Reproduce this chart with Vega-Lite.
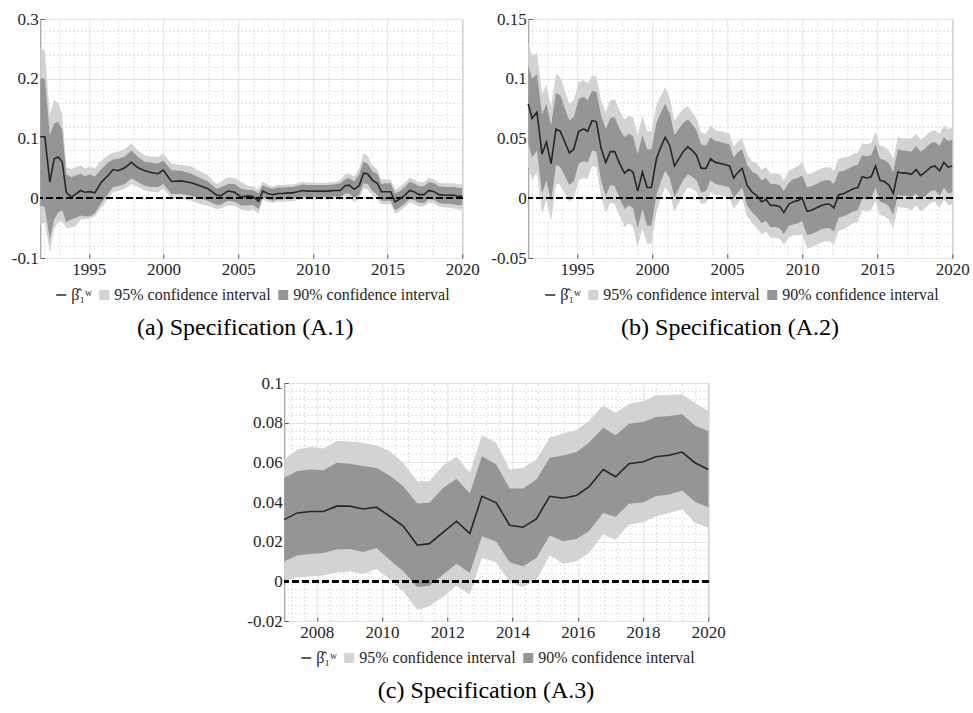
{
  "$schema": "https://vega.github.io/schema/vega-lite/v6.json",
  "padding": {"left": 10, "top": 9, "right": 2, "bottom": 2},
  "background": "#ffffff",
  "datasets": {
    "legend": [{"s": "β̂₁ʷ"}, {"s": "95% confidence interval"}, {"s": "90% confidence interval"}],
    "a": [
      {"t": 1991.75, "b": 0.103, "l9": -0.012, "h9": 0.201, "l5": -0.045, "h5": 0.252},
      {"t": 1992.06, "b": 0.103, "l9": -0.015, "h9": 0.2, "l5": -0.04, "h5": 0.246},
      {"t": 1992.39, "b": 0.027, "l9": -0.069, "h9": 0.105, "l5": -0.091, "h5": 0.14},
      {"t": 1992.68, "b": 0.066, "l9": -0.035, "h9": 0.125, "l5": -0.052, "h5": 0.165},
      {"t": 1992.95, "b": 0.069, "l9": -0.024, "h9": 0.128, "l5": -0.04, "h5": 0.158},
      {"t": 1993.22, "b": 0.061, "l9": -0.02, "h9": 0.115, "l5": -0.038, "h5": 0.14},
      {"t": 1993.49, "b": 0.01, "l9": -0.04, "h9": 0.04, "l5": -0.05, "h5": 0.052},
      {"t": 1993.84, "b": 0.002, "l9": -0.035, "h9": 0.035, "l5": -0.049, "h5": 0.049},
      {"t": 1994.11, "b": 0.007, "l9": -0.033, "h9": 0.038, "l5": -0.047, "h5": 0.052},
      {"t": 1994.47, "b": 0.013, "l9": -0.029, "h9": 0.041, "l5": -0.035, "h5": 0.055},
      {"t": 1994.73, "b": 0.01, "l9": -0.03, "h9": 0.037, "l5": -0.035, "h5": 0.05},
      {"t": 1995.07, "b": 0.011, "l9": -0.03, "h9": 0.04, "l5": -0.034, "h5": 0.053},
      {"t": 1995.4, "b": 0.009, "l9": -0.025, "h9": 0.036, "l5": -0.03, "h5": 0.05},
      {"t": 1995.85, "b": 0.027, "l9": -0.007, "h9": 0.049, "l5": -0.015, "h5": 0.063},
      {"t": 1996.29, "b": 0.038, "l9": 0.007, "h9": 0.06, "l5": -0.001, "h5": 0.072},
      {"t": 1996.63, "b": 0.048, "l9": 0.019, "h9": 0.065, "l5": 0.01, "h5": 0.076},
      {"t": 1996.96, "b": 0.046, "l9": 0.02, "h9": 0.066, "l5": 0.012, "h5": 0.078},
      {"t": 1997.41, "b": 0.051, "l9": 0.024, "h9": 0.07, "l5": 0.016, "h5": 0.082},
      {"t": 1997.85, "b": 0.06, "l9": 0.033, "h9": 0.08, "l5": 0.024, "h5": 0.092},
      {"t": 1998.3, "b": 0.051, "l9": 0.027, "h9": 0.069, "l5": 0.019, "h5": 0.08},
      {"t": 1998.74, "b": 0.046, "l9": 0.021, "h9": 0.061, "l5": 0.013, "h5": 0.072},
      {"t": 1999.19, "b": 0.043, "l9": 0.019, "h9": 0.06, "l5": 0.011, "h5": 0.07},
      {"t": 1999.63, "b": 0.041, "l9": 0.019, "h9": 0.058, "l5": 0.01, "h5": 0.069},
      {"t": 1999.99, "b": 0.047, "l9": 0.024, "h9": 0.063, "l5": 0.016, "h5": 0.075},
      {"t": 2000.53, "b": 0.028, "l9": 0.007, "h9": 0.047, "l5": -0.001, "h5": 0.058},
      {"t": 2001.19, "b": 0.029, "l9": 0.007, "h9": 0.046, "l5": -0.001, "h5": 0.056},
      {"t": 2001.86, "b": 0.026, "l9": 0.004, "h9": 0.041, "l5": -0.004, "h5": 0.053},
      {"t": 2002.53, "b": 0.02, "l9": -0.001, "h9": 0.033, "l5": -0.01, "h5": 0.044},
      {"t": 2002.97, "b": 0.016, "l9": -0.004, "h9": 0.028, "l5": -0.012, "h5": 0.038},
      {"t": 2003.53, "b": 0.006, "l9": -0.011, "h9": 0.016, "l5": -0.018, "h5": 0.024},
      {"t": 2003.82, "b": 0.004, "l9": -0.011, "h9": 0.018, "l5": -0.017, "h5": 0.027},
      {"t": 2004.31, "b": 0.012, "l9": -0.004, "h9": 0.024, "l5": -0.012, "h5": 0.035},
      {"t": 2004.76, "b": 0.01, "l9": -0.006, "h9": 0.024, "l5": -0.013, "h5": 0.034},
      {"t": 2005.2, "b": 0.002, "l9": -0.012, "h9": 0.016, "l5": -0.019, "h5": 0.027},
      {"t": 2005.65, "b": 0.004, "l9": -0.012, "h9": 0.014, "l5": -0.021, "h5": 0.021},
      {"t": 2005.98, "b": 0.003, "l9": -0.011, "h9": 0.014, "l5": -0.02, "h5": 0.02},
      {"t": 2006.37, "b": -0.005, "l9": -0.018, "h9": 0.008, "l5": -0.025, "h5": 0.015},
      {"t": 2006.64, "b": 0.012, "l9": 0.002, "h9": 0.022, "l5": -0.003, "h5": 0.028},
      {"t": 2006.97, "b": 0.008, "l9": -0.002, "h9": 0.018, "l5": -0.006, "h5": 0.022},
      {"t": 2007.31, "b": 0.006, "l9": -0.004, "h9": 0.016, "l5": -0.008, "h5": 0.02},
      {"t": 2007.64, "b": 0.008, "l9": -0.002, "h9": 0.018, "l5": -0.006, "h5": 0.022},
      {"t": 2007.97, "b": 0.008, "l9": -0.002, "h9": 0.018, "l5": -0.006, "h5": 0.022},
      {"t": 2008.31, "b": 0.009, "l9": -0.001, "h9": 0.019, "l5": -0.005, "h5": 0.023},
      {"t": 2008.64, "b": 0.009, "l9": -0.001, "h9": 0.019, "l5": -0.005, "h5": 0.023},
      {"t": 2008.98, "b": 0.011, "l9": 0.001, "h9": 0.021, "l5": -0.003, "h5": 0.025},
      {"t": 2009.31, "b": 0.013, "l9": 0.003, "h9": 0.023, "l5": -0.001, "h5": 0.027},
      {"t": 2009.64, "b": 0.012, "l9": 0.002, "h9": 0.022, "l5": -0.002, "h5": 0.026},
      {"t": 2010.09, "b": 0.012, "l9": 0.002, "h9": 0.022, "l5": -0.002, "h5": 0.026},
      {"t": 2010.53, "b": 0.012, "l9": 0.002, "h9": 0.022, "l5": -0.002, "h5": 0.026},
      {"t": 2010.98, "b": 0.012, "l9": 0.002, "h9": 0.022, "l5": -0.002, "h5": 0.026},
      {"t": 2011.43, "b": 0.013, "l9": 0.003, "h9": 0.023, "l5": -0.001, "h5": 0.027},
      {"t": 2011.83, "b": 0.013, "l9": 0.002, "h9": 0.025, "l5": -0.003, "h5": 0.03},
      {"t": 2012.16, "b": 0.021, "l9": 0.008, "h9": 0.032, "l5": 0.002, "h5": 0.04},
      {"t": 2012.43, "b": 0.022, "l9": 0.008, "h9": 0.034, "l5": 0.002, "h5": 0.042},
      {"t": 2012.76, "b": 0.015, "l9": 0.001, "h9": 0.028, "l5": -0.006, "h5": 0.036},
      {"t": 2013.1, "b": 0.021, "l9": 0.006, "h9": 0.04, "l5": -0.002, "h5": 0.05},
      {"t": 2013.39, "b": 0.042, "l9": 0.025, "h9": 0.061, "l5": 0.016, "h5": 0.075},
      {"t": 2013.65, "b": 0.041, "l9": 0.024, "h9": 0.058, "l5": 0.015, "h5": 0.071},
      {"t": 2013.99, "b": 0.03, "l9": 0.012, "h9": 0.045, "l5": 0.004, "h5": 0.055},
      {"t": 2014.32, "b": 0.025, "l9": 0.006, "h9": 0.04, "l5": -0.002, "h5": 0.048},
      {"t": 2014.59, "b": 0.011, "l9": -0.004, "h9": 0.024, "l5": -0.01, "h5": 0.032},
      {"t": 2014.88, "b": 0.011, "l9": -0.004, "h9": 0.025, "l5": -0.01, "h5": 0.032},
      {"t": 2015.21, "b": 0.011, "l9": -0.004, "h9": 0.025, "l5": -0.01, "h5": 0.031},
      {"t": 2015.5, "b": -0.006, "l9": -0.02, "h9": 0.008, "l5": -0.026, "h5": 0.015},
      {"t": 2015.84, "b": -0.001, "l9": -0.015, "h9": 0.012, "l5": -0.021, "h5": 0.019},
      {"t": 2016.15, "b": 0.005, "l9": -0.009, "h9": 0.019, "l5": -0.015, "h5": 0.026},
      {"t": 2016.48, "b": 0.013, "l9": -0.001, "h9": 0.027, "l5": -0.007, "h5": 0.034},
      {"t": 2016.77, "b": 0.011, "l9": -0.003, "h9": 0.025, "l5": -0.009, "h5": 0.032},
      {"t": 2017.1, "b": 0.006, "l9": -0.008, "h9": 0.02, "l5": -0.014, "h5": 0.027},
      {"t": 2017.44, "b": 0.006, "l9": -0.008, "h9": 0.02, "l5": -0.014, "h5": 0.027},
      {"t": 2017.77, "b": 0.013, "l9": -0.001, "h9": 0.027, "l5": -0.007, "h5": 0.034},
      {"t": 2018.11, "b": 0.011, "l9": -0.003, "h9": 0.025, "l5": -0.009, "h5": 0.032},
      {"t": 2018.44, "b": 0.006, "l9": -0.008, "h9": 0.02, "l5": -0.014, "h5": 0.026},
      {"t": 2018.78, "b": 0.005, "l9": -0.009, "h9": 0.019, "l5": -0.015, "h5": 0.025},
      {"t": 2019.11, "b": 0.005, "l9": -0.009, "h9": 0.019, "l5": -0.016, "h5": 0.025},
      {"t": 2019.44, "b": 0.005, "l9": -0.01, "h9": 0.019, "l5": -0.017, "h5": 0.025},
      {"t": 2019.78, "b": 0.003, "l9": -0.012, "h9": 0.017, "l5": -0.019, "h5": 0.023},
      {"t": 2020.0, "b": 0.004, "l9": -0.011, "h9": 0.017, "l5": -0.019, "h5": 0.024}
    ],
    "b": [
      {"t": 1991.75, "b": 0.079, "l9": 0.046, "h9": 0.112, "l5": 0.027, "h5": 0.131},
      {"t": 1992.0, "b": 0.067, "l9": 0.034, "h9": 0.1, "l5": 0.015, "h5": 0.119},
      {"t": 1992.33, "b": 0.072, "l9": 0.04, "h9": 0.104, "l5": 0.022, "h5": 0.122},
      {"t": 1992.67, "b": 0.037, "l9": 0.004, "h9": 0.07, "l5": -0.013, "h5": 0.087},
      {"t": 1992.96, "b": 0.047, "l9": 0.015, "h9": 0.079, "l5": -0.001, "h5": 0.095},
      {"t": 1993.27, "b": 0.029, "l9": -0.003, "h9": 0.061, "l5": -0.019, "h5": 0.077},
      {"t": 1993.6, "b": 0.058, "l9": 0.028, "h9": 0.088, "l5": 0.012, "h5": 0.104},
      {"t": 1993.89, "b": 0.056, "l9": 0.026, "h9": 0.086, "l5": 0.011, "h5": 0.101},
      {"t": 1994.22, "b": 0.046, "l9": 0.018, "h9": 0.074, "l5": 0.003, "h5": 0.089},
      {"t": 1994.49, "b": 0.038, "l9": 0.011, "h9": 0.065, "l5": -0.003, "h5": 0.079},
      {"t": 1994.78, "b": 0.041, "l9": 0.014, "h9": 0.068, "l5": 0.0, "h5": 0.082},
      {"t": 1995.11, "b": 0.056, "l9": 0.029, "h9": 0.083, "l5": 0.015, "h5": 0.097},
      {"t": 1995.44, "b": 0.058, "l9": 0.031, "h9": 0.085, "l5": 0.017, "h5": 0.099},
      {"t": 1995.71, "b": 0.056, "l9": 0.03, "h9": 0.082, "l5": 0.016, "h5": 0.096},
      {"t": 1996.0, "b": 0.065, "l9": 0.04, "h9": 0.09, "l5": 0.027, "h5": 0.103},
      {"t": 1996.29, "b": 0.064, "l9": 0.039, "h9": 0.089, "l5": 0.026, "h5": 0.102},
      {"t": 1996.6, "b": 0.042, "l9": 0.015, "h9": 0.069, "l5": 0.002, "h5": 0.082},
      {"t": 1996.91, "b": 0.03, "l9": 0.002, "h9": 0.058, "l5": -0.012, "h5": 0.072},
      {"t": 1997.22, "b": 0.039, "l9": 0.011, "h9": 0.067, "l5": -0.004, "h5": 0.082},
      {"t": 1997.51, "b": 0.039, "l9": 0.01, "h9": 0.068, "l5": -0.005, "h5": 0.083},
      {"t": 1997.84, "b": 0.029, "l9": 0.0, "h9": 0.058, "l5": -0.015, "h5": 0.073},
      {"t": 1998.16, "b": 0.021, "l9": -0.009, "h9": 0.051, "l5": -0.024, "h5": 0.066},
      {"t": 1998.44, "b": 0.024, "l9": -0.006, "h9": 0.054, "l5": -0.021, "h5": 0.069},
      {"t": 1998.73, "b": 0.022, "l9": -0.008, "h9": 0.052, "l5": -0.024, "h5": 0.068},
      {"t": 1999.04, "b": 0.006, "l9": -0.025, "h9": 0.037, "l5": -0.041, "h5": 0.053},
      {"t": 1999.36, "b": 0.022, "l9": -0.009, "h9": 0.053, "l5": -0.025, "h5": 0.069},
      {"t": 1999.67, "b": 0.009, "l9": -0.023, "h9": 0.041, "l5": -0.038, "h5": 0.056},
      {"t": 1999.96, "b": 0.009, "l9": -0.023, "h9": 0.041, "l5": -0.038, "h5": 0.056},
      {"t": 2000.29, "b": 0.033, "l9": 0.003, "h9": 0.063, "l5": -0.012, "h5": 0.078},
      {"t": 2000.56, "b": 0.042, "l9": 0.013, "h9": 0.071, "l5": -0.001, "h5": 0.085},
      {"t": 2000.87, "b": 0.051, "l9": 0.023, "h9": 0.079, "l5": 0.009, "h5": 0.093},
      {"t": 2001.18, "b": 0.044, "l9": 0.017, "h9": 0.071, "l5": 0.004, "h5": 0.084},
      {"t": 2001.49, "b": 0.027, "l9": 0.001, "h9": 0.053, "l5": -0.011, "h5": 0.065},
      {"t": 2001.78, "b": 0.033, "l9": 0.008, "h9": 0.058, "l5": -0.004, "h5": 0.07},
      {"t": 2002.07, "b": 0.039, "l9": 0.015, "h9": 0.063, "l5": 0.003, "h5": 0.075},
      {"t": 2002.38, "b": 0.043, "l9": 0.02, "h9": 0.066, "l5": 0.009, "h5": 0.077},
      {"t": 2002.67, "b": 0.04, "l9": 0.018, "h9": 0.062, "l5": 0.008, "h5": 0.072},
      {"t": 2002.96, "b": 0.036, "l9": 0.015, "h9": 0.057, "l5": 0.005, "h5": 0.067},
      {"t": 2003.27, "b": 0.025, "l9": 0.005, "h9": 0.045, "l5": -0.005, "h5": 0.055},
      {"t": 2003.6, "b": 0.025, "l9": 0.006, "h9": 0.044, "l5": -0.004, "h5": 0.054},
      {"t": 2003.89, "b": 0.033, "l9": 0.015, "h9": 0.051, "l5": 0.005, "h5": 0.061},
      {"t": 2004.22, "b": 0.03, "l9": 0.012, "h9": 0.048, "l5": 0.003, "h5": 0.057},
      {"t": 2004.56, "b": 0.029, "l9": 0.011, "h9": 0.047, "l5": 0.002, "h5": 0.056},
      {"t": 2004.89, "b": 0.028, "l9": 0.01, "h9": 0.046, "l5": 0.001, "h5": 0.055},
      {"t": 2005.16, "b": 0.027, "l9": 0.009, "h9": 0.045, "l5": 0.0, "h5": 0.054},
      {"t": 2005.44, "b": 0.017, "l9": 0.0, "h9": 0.034, "l5": -0.009, "h5": 0.043},
      {"t": 2005.67, "b": 0.021, "l9": 0.004, "h9": 0.038, "l5": -0.005, "h5": 0.047},
      {"t": 2006.0, "b": 0.025, "l9": 0.009, "h9": 0.041, "l5": 0.0, "h5": 0.05},
      {"t": 2006.33, "b": 0.011, "l9": -0.006, "h9": 0.028, "l5": -0.015, "h5": 0.037},
      {"t": 2006.67, "b": 0.005, "l9": -0.012, "h9": 0.022, "l5": -0.021, "h5": 0.031},
      {"t": 2007.0, "b": 0.002, "l9": -0.016, "h9": 0.02, "l5": -0.025, "h5": 0.029},
      {"t": 2007.29, "b": -0.003, "l9": -0.021, "h9": 0.015, "l5": -0.03, "h5": 0.024},
      {"t": 2007.6, "b": -0.001, "l9": -0.019, "h9": 0.017, "l5": -0.028, "h5": 0.026},
      {"t": 2007.89, "b": -0.006, "l9": -0.024, "h9": 0.012, "l5": -0.033, "h5": 0.021},
      {"t": 2008.22, "b": -0.006, "l9": -0.024, "h9": 0.012, "l5": -0.033, "h5": 0.021},
      {"t": 2008.51, "b": -0.007, "l9": -0.025, "h9": 0.011, "l5": -0.034, "h5": 0.02},
      {"t": 2008.78, "b": -0.012, "l9": -0.03, "h9": 0.006, "l5": -0.039, "h5": 0.015},
      {"t": 2009.11, "b": -0.005, "l9": -0.023, "h9": 0.013, "l5": -0.033, "h5": 0.023},
      {"t": 2009.4, "b": -0.003, "l9": -0.022, "h9": 0.016, "l5": -0.031, "h5": 0.025},
      {"t": 2009.71, "b": -0.002, "l9": -0.021, "h9": 0.017, "l5": -0.031, "h5": 0.027},
      {"t": 2010.0, "b": 0.0, "l9": -0.019, "h9": 0.019, "l5": -0.03, "h5": 0.03},
      {"t": 2010.33, "b": -0.011, "l9": -0.031, "h9": 0.009, "l5": -0.042, "h5": 0.02},
      {"t": 2010.62, "b": -0.01, "l9": -0.03, "h9": 0.01, "l5": -0.041, "h5": 0.021},
      {"t": 2010.96, "b": -0.008, "l9": -0.028, "h9": 0.012, "l5": -0.039, "h5": 0.023},
      {"t": 2011.27, "b": -0.006, "l9": -0.026, "h9": 0.014, "l5": -0.037, "h5": 0.025},
      {"t": 2011.56, "b": -0.005, "l9": -0.025, "h9": 0.015, "l5": -0.036, "h5": 0.026},
      {"t": 2011.84, "b": -0.005, "l9": -0.025, "h9": 0.015, "l5": -0.036, "h5": 0.026},
      {"t": 2012.11, "b": -0.008, "l9": -0.028, "h9": 0.012, "l5": -0.039, "h5": 0.023},
      {"t": 2012.44, "b": 0.003, "l9": -0.016, "h9": 0.022, "l5": -0.027, "h5": 0.033},
      {"t": 2012.78, "b": 0.004, "l9": -0.015, "h9": 0.023, "l5": -0.026, "h5": 0.034},
      {"t": 2013.11, "b": 0.006, "l9": -0.013, "h9": 0.025, "l5": -0.023, "h5": 0.035},
      {"t": 2013.4, "b": 0.008, "l9": -0.011, "h9": 0.027, "l5": -0.021, "h5": 0.037},
      {"t": 2013.71, "b": 0.009, "l9": -0.01, "h9": 0.028, "l5": -0.02, "h5": 0.038},
      {"t": 2014.0, "b": 0.018, "l9": 0.0, "h9": 0.036, "l5": -0.01, "h5": 0.046},
      {"t": 2014.29, "b": 0.017, "l9": -0.001, "h9": 0.035, "l5": -0.011, "h5": 0.045},
      {"t": 2014.6, "b": 0.018, "l9": 0.0, "h9": 0.036, "l5": -0.01, "h5": 0.046},
      {"t": 2014.89, "b": 0.027, "l9": 0.009, "h9": 0.045, "l5": -0.002, "h5": 0.056},
      {"t": 2015.18, "b": 0.015, "l9": -0.003, "h9": 0.033, "l5": -0.014, "h5": 0.044},
      {"t": 2015.49, "b": 0.014, "l9": -0.004, "h9": 0.032, "l5": -0.015, "h5": 0.043},
      {"t": 2015.78, "b": 0.011, "l9": -0.007, "h9": 0.029, "l5": -0.018, "h5": 0.04},
      {"t": 2016.07, "b": 0.004, "l9": -0.014, "h9": 0.022, "l5": -0.025, "h5": 0.033},
      {"t": 2016.38, "b": 0.022, "l9": 0.003, "h9": 0.041, "l5": -0.007, "h5": 0.051},
      {"t": 2016.67, "b": 0.021, "l9": 0.002, "h9": 0.04, "l5": -0.008, "h5": 0.05},
      {"t": 2016.96, "b": 0.021, "l9": 0.002, "h9": 0.04, "l5": -0.008, "h5": 0.05},
      {"t": 2017.27, "b": 0.02, "l9": 0.001, "h9": 0.039, "l5": -0.01, "h5": 0.05},
      {"t": 2017.6, "b": 0.024, "l9": 0.004, "h9": 0.044, "l5": -0.006, "h5": 0.054},
      {"t": 2017.89, "b": 0.019, "l9": -0.001, "h9": 0.039, "l5": -0.011, "h5": 0.049},
      {"t": 2018.22, "b": 0.022, "l9": 0.002, "h9": 0.042, "l5": -0.008, "h5": 0.052},
      {"t": 2018.56, "b": 0.026, "l9": 0.006, "h9": 0.046, "l5": -0.004, "h5": 0.056},
      {"t": 2018.84, "b": 0.027, "l9": 0.007, "h9": 0.047, "l5": -0.003, "h5": 0.057},
      {"t": 2019.16, "b": 0.023, "l9": 0.002, "h9": 0.044, "l5": -0.008, "h5": 0.054},
      {"t": 2019.44, "b": 0.03, "l9": 0.009, "h9": 0.051, "l5": -0.001, "h5": 0.061},
      {"t": 2019.73, "b": 0.026, "l9": 0.004, "h9": 0.048, "l5": -0.006, "h5": 0.058},
      {"t": 2020.0, "b": 0.027, "l9": 0.005, "h9": 0.049, "l5": -0.005, "h5": 0.059}
    ],
    "c": [
      {"t": 2007.0, "b": 0.0311, "l9": 0.0101, "h9": 0.0522, "l5": 0.0, "h5": 0.0614},
      {"t": 2007.4, "b": 0.0345, "l9": 0.0131, "h9": 0.0556, "l5": 0.002, "h5": 0.0665},
      {"t": 2007.81, "b": 0.0352, "l9": 0.0138, "h9": 0.0564, "l5": 0.0025, "h5": 0.0677},
      {"t": 2008.2, "b": 0.0352, "l9": 0.0143, "h9": 0.056, "l5": 0.0029, "h5": 0.067},
      {"t": 2008.61, "b": 0.0379, "l9": 0.016, "h9": 0.0598, "l5": 0.0045, "h5": 0.0707},
      {"t": 2009.01, "b": 0.0379, "l9": 0.0163, "h9": 0.0593, "l5": 0.005, "h5": 0.0705},
      {"t": 2009.42, "b": 0.0365, "l9": 0.0148, "h9": 0.0581, "l5": 0.0037, "h5": 0.0699},
      {"t": 2009.83, "b": 0.0374, "l9": 0.0168, "h9": 0.0572, "l5": 0.0062, "h5": 0.0685},
      {"t": 2010.23, "b": 0.0328, "l9": 0.0109, "h9": 0.0534, "l5": 0.0012, "h5": 0.0657},
      {"t": 2010.65, "b": 0.0278, "l9": 0.0051, "h9": 0.048, "l5": -0.0051, "h5": 0.0598},
      {"t": 2011.08, "b": 0.0182, "l9": -0.0029, "h9": 0.0392, "l5": -0.0143, "h5": 0.0505},
      {"t": 2011.45, "b": 0.019, "l9": -0.0022, "h9": 0.0396, "l5": -0.0126, "h5": 0.0505},
      {"t": 2011.87, "b": 0.0247, "l9": 0.0034, "h9": 0.0471, "l5": -0.0076, "h5": 0.0584},
      {"t": 2012.28, "b": 0.0303, "l9": 0.0089, "h9": 0.0517, "l5": -0.0022, "h5": 0.0628},
      {"t": 2012.69, "b": 0.0241, "l9": 0.0042, "h9": 0.0443, "l5": -0.0067, "h5": 0.0547},
      {"t": 2013.06, "b": 0.0429, "l9": 0.0227, "h9": 0.0631, "l5": 0.0118, "h5": 0.0736},
      {"t": 2013.5, "b": 0.0396, "l9": 0.0199, "h9": 0.0589, "l5": 0.0096, "h5": 0.0699},
      {"t": 2013.91, "b": 0.0283, "l9": 0.0096, "h9": 0.0468, "l5": -0.0005, "h5": 0.0564},
      {"t": 2014.32, "b": 0.0273, "l9": 0.0076, "h9": 0.0468, "l5": -0.0029, "h5": 0.0572},
      {"t": 2014.73, "b": 0.0315, "l9": 0.0118, "h9": 0.0513, "l5": 0.0008, "h5": 0.0614},
      {"t": 2015.14, "b": 0.0429, "l9": 0.0231, "h9": 0.0623, "l5": 0.0131, "h5": 0.0724},
      {"t": 2015.55, "b": 0.0419, "l9": 0.0202, "h9": 0.0635, "l5": 0.0089, "h5": 0.0746},
      {"t": 2015.96, "b": 0.0433, "l9": 0.0214, "h9": 0.0652, "l5": 0.0101, "h5": 0.0763},
      {"t": 2016.34, "b": 0.0476, "l9": 0.0253, "h9": 0.0699, "l5": 0.0143, "h5": 0.0808},
      {"t": 2016.78, "b": 0.0564, "l9": 0.0345, "h9": 0.0774, "l5": 0.0236, "h5": 0.0887},
      {"t": 2017.16, "b": 0.0527, "l9": 0.0325, "h9": 0.0737, "l5": 0.021, "h5": 0.085},
      {"t": 2017.57, "b": 0.0593, "l9": 0.0391, "h9": 0.0795, "l5": 0.0286, "h5": 0.0896},
      {"t": 2018.01, "b": 0.0603, "l9": 0.0399, "h9": 0.0803, "l5": 0.0298, "h5": 0.0909},
      {"t": 2018.39, "b": 0.0628, "l9": 0.0429, "h9": 0.0828, "l5": 0.0328, "h5": 0.0938},
      {"t": 2018.8, "b": 0.0636, "l9": 0.0438, "h9": 0.0833, "l5": 0.0345, "h5": 0.094},
      {"t": 2019.2, "b": 0.0652, "l9": 0.0458, "h9": 0.0842, "l5": 0.0365, "h5": 0.0943},
      {"t": 2019.59, "b": 0.0598, "l9": 0.0401, "h9": 0.0786, "l5": 0.0295, "h5": 0.09},
      {"t": 2020.0, "b": 0.0564, "l9": 0.0374, "h9": 0.0758, "l5": 0.0269, "h5": 0.0859}
    ]
  },
  "vconcat": [
    {
      "hconcat": [
        {
          "width": 422, "height": 239,
          "data": {"name": "a"},
          "title": {"text": "(a) Specification (A.1)", "orient": "bottom", "anchor": "middle", "frame": "bounds", "offset": 13},
          "layer": [
            {"mark": {"type": "area", "color": "#d3d3d3", "opacity": 1},
             "encoding": {
               "x": {"field": "t", "type": "quantitative", "scale": {"domain": [1991.75, 2020], "nice": false, "zero": false},
                     "axis": {"values": [1995, 2000, 2005, 2010, 2015, 2020], "labelExpr": "'' + datum.value", "labelFlush": false, "labelOverlap": false, "grid": true, "gridColor": "#e2e2e2", "title": null, "domain": false, "labelFont": "Liberation Serif", "labelFontSize": 17, "labelColor": "#262626", "tickColor": "#555555", "tickSize": -4, "labelPadding": 7}},
               "y": {"field": "l5", "type": "quantitative", "scale": {"domain": [-0.1, 0.3], "nice": false, "zero": false},
                     "axis": {"values": [-0.1, 0, 0.1, 0.2, 0.3], "labelExpr": "'' + datum.value", "labelFlush": false, "labelOverlap": false, "grid": true, "gridColor": "#e2e2e2", "title": null, "domain": false, "labelFont": "Liberation Serif", "labelFontSize": 17, "labelColor": "#262626", "tickColor": "#555555", "tickSize": -4, "labelPadding": 6}},
               "y2": {"field": "h5"}}},
            {"mark": {"type": "area", "color": "#959595", "opacity": 1},
             "encoding": {
               "x": {"field": "t", "type": "quantitative",
                     "axis": {"values": [1992, 1993, 1994, 1996, 1997, 1998, 1999, 2001, 2002, 2003, 2004, 2006, 2007, 2008, 2009, 2011, 2012, 2013, 2014, 2016, 2017, 2018, 2019], "labels": false, "ticks": false, "domain": false, "grid": true, "gridDash": [1, 3], "gridColor": "#c2c2c2", "title": null}},
               "y": {"field": "l9", "type": "quantitative",
                     "axis": {"values": [-0.08, -0.06, -0.04, -0.02, 0.02, 0.04, 0.06, 0.08, 0.12, 0.14, 0.16, 0.18, 0.22, 0.24, 0.26, 0.28], "labels": false, "ticks": false, "domain": false, "grid": true, "gridDash": [1, 3], "gridColor": "#c2c2c2", "title": null}},
               "y2": {"field": "h9"}}},
            {"mark": {"type": "rule", "color": "#000000", "strokeDash": [6, 4], "strokeWidth": 1.6},
             "encoding": {"y": {"datum": 0, "type": "quantitative", "axis": null}}},
            {"mark": {"type": "line", "color": "#262626", "strokeWidth": 1.6},
             "encoding": {"x": {"field": "t", "type": "quantitative", "axis": null}, "y": {"field": "b", "type": "quantitative", "axis": null}}},
            {"data": {"name": "legend"}, "mark": {"type": "point", "filled": true, "opacity": 0},
             "encoding": {
               "color": {"field": "s", "type": "nominal", "scale": {"domain": ["β̂₁ʷ", "95% confidence interval", "90% confidence interval"], "range": ["#262626", "#d3d3d3", "#959595"]},
                         "legend": {"title": null, "orient": "bottom", "direction": "horizontal", "offset": 10, "labelFont": "Liberation Serif", "labelFontSize": 16, "labelColor": "#262626", "labelLimit": 400, "labelOffset": 2, "columnPadding": 4, "symbolSize": 100, "symbolStrokeWidth": 0, "symbolOpacity": 1}},
               "shape": {"field": "s", "type": "nominal", "scale": {"domain": ["β̂₁ʷ", "95% confidence interval", "90% confidence interval"], "range": ["M-1,-0.15H1V0.15H-1Z", "square", "square"]},
                         "legend": {"title": null, "orient": "bottom", "direction": "horizontal", "offset": 10, "labelFont": "Liberation Serif", "labelFontSize": 16, "labelColor": "#262626", "labelLimit": 400, "labelOffset": 2, "columnPadding": 4, "symbolSize": 100, "symbolStrokeWidth": 0, "symbolOpacity": 1}}}}
          ],
          "resolve": {"axis": {"x": "independent", "y": "independent"}}
        },
        {
          "width": 424, "height": 239,
          "data": {"name": "b"},
          "title": {"text": "(b) Specification (A.2)", "orient": "bottom", "anchor": "middle", "frame": "bounds", "offset": 13},
          "layer": [
            {"mark": {"type": "area", "color": "#d3d3d3", "opacity": 1},
             "encoding": {
               "x": {"field": "t", "type": "quantitative", "scale": {"domain": [1991.75, 2020], "nice": false, "zero": false},
                     "axis": {"values": [1995, 2000, 2005, 2010, 2015, 2020], "labelExpr": "'' + datum.value", "labelFlush": false, "labelOverlap": false, "grid": true, "gridColor": "#e2e2e2", "title": null, "domain": false, "labelFont": "Liberation Serif", "labelFontSize": 17, "labelColor": "#262626", "tickColor": "#555555", "tickSize": -4, "labelPadding": 7}},
               "y": {"field": "l5", "type": "quantitative", "scale": {"domain": [-0.05, 0.15], "nice": false, "zero": false},
                     "axis": {"values": [-0.05, 0, 0.05, 0.1, 0.15], "labelExpr": "'' + datum.value", "labelFlush": false, "labelOverlap": false, "grid": true, "gridColor": "#e2e2e2", "title": null, "domain": false, "labelFont": "Liberation Serif", "labelFontSize": 17, "labelColor": "#262626", "tickColor": "#555555", "tickSize": -4, "labelPadding": 6}},
               "y2": {"field": "h5"}}},
            {"mark": {"type": "area", "color": "#959595", "opacity": 1},
             "encoding": {
               "x": {"field": "t", "type": "quantitative",
                     "axis": {"values": [1992, 1993, 1994, 1996, 1997, 1998, 1999, 2001, 2002, 2003, 2004, 2006, 2007, 2008, 2009, 2011, 2012, 2013, 2014, 2016, 2017, 2018, 2019], "labels": false, "ticks": false, "domain": false, "grid": true, "gridDash": [1, 3], "gridColor": "#c2c2c2", "title": null}},
               "y": {"field": "l9", "type": "quantitative",
                     "axis": {"values": [-0.04, -0.03, -0.02, -0.01, 0.01, 0.02, 0.03, 0.04, 0.06, 0.07, 0.08, 0.09, 0.11, 0.12, 0.13, 0.14], "labels": false, "ticks": false, "domain": false, "grid": true, "gridDash": [1, 3], "gridColor": "#c2c2c2", "title": null}},
               "y2": {"field": "h9"}}},
            {"mark": {"type": "rule", "color": "#000000", "strokeDash": [6, 4], "strokeWidth": 1.6},
             "encoding": {"y": {"datum": 0, "type": "quantitative", "axis": null}}},
            {"mark": {"type": "line", "color": "#262626", "strokeWidth": 1.6},
             "encoding": {"x": {"field": "t", "type": "quantitative", "axis": null}, "y": {"field": "b", "type": "quantitative", "axis": null}}},
            {"data": {"name": "legend"}, "mark": {"type": "point", "filled": true, "opacity": 0},
             "encoding": {
               "color": {"field": "s", "type": "nominal", "scale": {"domain": ["β̂₁ʷ", "95% confidence interval", "90% confidence interval"], "range": ["#262626", "#d3d3d3", "#959595"]},
                         "legend": {"title": null, "orient": "bottom", "direction": "horizontal", "offset": 10, "labelFont": "Liberation Serif", "labelFontSize": 16, "labelColor": "#262626", "labelLimit": 400, "labelOffset": 2, "columnPadding": 4, "symbolSize": 100, "symbolStrokeWidth": 0, "symbolOpacity": 1}},
               "shape": {"field": "s", "type": "nominal", "scale": {"domain": ["β̂₁ʷ", "95% confidence interval", "90% confidence interval"], "range": ["M-1,-0.15H1V0.15H-1Z", "square", "square"]},
                         "legend": {"title": null, "orient": "bottom", "direction": "horizontal", "offset": 10, "labelFont": "Liberation Serif", "labelFontSize": 16, "labelColor": "#262626", "labelLimit": 400, "labelOffset": 2, "columnPadding": 4, "symbolSize": 100, "symbolStrokeWidth": 0, "symbolOpacity": 1}}}}
          ],
          "resolve": {"axis": {"x": "independent", "y": "independent"}}
        }
      ],
      "spacing": 10,
      "resolve": {"scale": {"color": "independent", "shape": "independent"}, "legend": {"color": "independent", "shape": "independent"}}
    },
    {
      "width": 424, "height": 238,
      "data": {"name": "c"},
      "title": {"text": "(c) Specification (A.3)", "orient": "bottom", "anchor": "middle", "frame": "bounds", "offset": 13},
      "layer": [
        {"mark": {"type": "area", "color": "#d3d3d3", "opacity": 1},
         "encoding": {
           "x": {"field": "t", "type": "quantitative", "scale": {"domain": [2007, 2020], "nice": false, "zero": false},
                 "axis": {"values": [2008, 2010, 2012, 2014, 2016, 2018, 2020], "labelExpr": "'' + datum.value", "labelFlush": false, "labelOverlap": false, "grid": true, "gridColor": "#e2e2e2", "title": null, "domain": false, "labelFont": "Liberation Serif", "labelFontSize": 17, "labelColor": "#262626", "tickColor": "#555555", "tickSize": -4, "labelPadding": 7}},
           "y": {"field": "l5", "type": "quantitative", "scale": {"domain": [-0.02, 0.1], "nice": false, "zero": false},
                 "axis": {"values": [-0.02, 0, 0.02, 0.04, 0.06, 0.08, 0.1], "labelExpr": "'' + datum.value", "labelFlush": false, "labelOverlap": false, "grid": true, "gridColor": "#e2e2e2", "title": null, "domain": false, "labelFont": "Liberation Serif", "labelFontSize": 17, "labelColor": "#262626", "tickColor": "#555555", "tickSize": -4, "labelPadding": 6}},
           "y2": {"field": "h5"}}},
        {"mark": {"type": "area", "color": "#959595", "opacity": 1},
         "encoding": {
           "x": {"field": "t", "type": "quantitative",
                 "axis": {"values": [2007.2, 2007.6, 2008.4, 2008.8, 2009.2, 2009.6, 2010.4, 2010.8, 2011.2, 2011.6, 2012.4, 2012.8, 2013.2, 2013.6, 2014.4, 2014.8, 2015.2, 2015.6, 2016.4, 2016.8, 2017.2, 2017.6, 2018.4, 2018.8, 2019.2, 2019.6], "labels": false, "ticks": false, "domain": false, "grid": true, "gridDash": [1, 3], "gridColor": "#c2c2c2", "title": null}},
           "y": {"field": "l9", "type": "quantitative",
                 "axis": {"values": [-0.016, -0.012, -0.008, -0.004, 0.004, 0.008, 0.012, 0.016, 0.024, 0.028, 0.032, 0.036, 0.044, 0.048, 0.052, 0.056, 0.064, 0.068, 0.072, 0.076, 0.084, 0.088, 0.092, 0.096], "labels": false, "ticks": false, "domain": false, "grid": true, "gridDash": [1, 3], "gridColor": "#c2c2c2", "title": null}},
           "y2": {"field": "h9"}}},
        {"mark": {"type": "rule", "color": "#000000", "strokeDash": [6, 4], "strokeWidth": 1.6},
         "encoding": {"y": {"datum": 0, "type": "quantitative", "axis": null}}},
        {"mark": {"type": "line", "color": "#262626", "strokeWidth": 1.6},
         "encoding": {"x": {"field": "t", "type": "quantitative", "axis": null}, "y": {"field": "b", "type": "quantitative", "axis": null}}},
        {"data": {"name": "legend"}, "mark": {"type": "point", "filled": true, "opacity": 0},
         "encoding": {
           "color": {"field": "s", "type": "nominal", "scale": {"domain": ["β̂₁ʷ", "95% confidence interval", "90% confidence interval"], "range": ["#262626", "#d3d3d3", "#959595"]},
                     "legend": {"title": null, "orient": "bottom", "direction": "horizontal", "offset": 10, "labelFont": "Liberation Serif", "labelFontSize": 16, "labelColor": "#262626", "labelLimit": 400, "labelOffset": 2, "columnPadding": 4, "symbolSize": 100, "symbolStrokeWidth": 0, "symbolOpacity": 1}},
           "shape": {"field": "s", "type": "nominal", "scale": {"domain": ["β̂₁ʷ", "95% confidence interval", "90% confidence interval"], "range": ["M-1,-0.15H1V0.15H-1Z", "square", "square"]},
                     "legend": {"title": null, "orient": "bottom", "direction": "horizontal", "offset": 10, "labelFont": "Liberation Serif", "labelFontSize": 16, "labelColor": "#262626", "labelLimit": 400, "labelOffset": 2, "columnPadding": 4, "symbolSize": 100, "symbolStrokeWidth": 0, "symbolOpacity": 1}}}}
      ],
      "resolve": {"axis": {"x": "independent", "y": "independent"}}
    }
  ],
  "spacing": 32,
  "center": true,
  "resolve": {"scale": {"color": "independent", "shape": "independent"}, "legend": {"color": "independent", "shape": "independent"}},
  "config": {
    "font": "Liberation Serif",
    "view": {"stroke": "#8c8c8c", "strokeWidth": 1},
    "legend": {"layout": {"bottom": {"anchor": "middle"}}},
    "title": {"font": "Liberation Serif", "fontSize": 24, "fontWeight": "normal", "color": "#000000"}
  }
}
